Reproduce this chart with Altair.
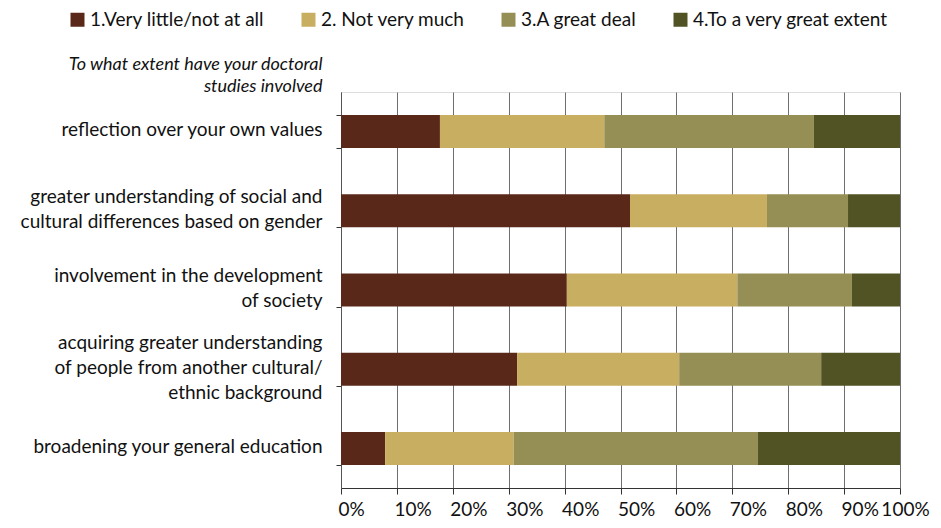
import altair as alt
import pandas as pd

categories = [
    "reflection over your own values",
    "greater understanding of social and|cultural differences based on gender",
    "involvement in the development|of society",
    "acquiring greater understanding|of people from another cultural/|ethnic background",
    "broadening your general education",
]
levels = [
    "1.Very little/not at all",
    "2. Not very much",
    "3.A great deal",
    "4.To a very great extent",
]
very_little = [17.7, 51.7, 40.4, 31.5, 7.9]
not_much = [29.4, 24.5, 30.5, 29.0, 23.0]
great_deal = [37.5, 14.5, 20.5, 25.4, 43.7]
very_great = [15.4, 9.3, 8.6, 14.1, 25.4]
colors = ["#5A2819", "#C8AE60", "#968F55", "#515324"]
x_ticks = [0, 0.1, 0.2, 0.3, 0.4, 0.5, 0.6, 0.7, 0.8, 0.9, 1.0]

series = [very_little, not_much, great_deal, very_great]
rows = []
for li, (lvl, vals) in enumerate(zip(levels, series)):
    for c, v in zip(categories, vals):
        rows.append({"category": c, "level": lvl, "order": li, "value": v})
df = pd.DataFrame(rows)

FONT = "Lato"

chart = (
    alt.Chart(df)
    .mark_bar(size=33)
    .encode(
        x=alt.X(
            "value:Q",
            stack="normalize",
            scale=alt.Scale(domain=[0, 1]),
            axis=alt.Axis(
                values=x_ticks,
                format="%",
                title=None,
                grid=True,
                gridColor="#6f6f6f",
                gridWidth=1,
                domainColor="#333333",
                tickColor="#333333",
                tickSize=6,
                labelFontSize=19,
                labelPadding=6,
                labelColor="#111111",
                labelFont=FONT,
                labelOverlap=False,
                labelFlush=False,
                labelAlign={"expr": "datum.value >= 1 ? 'center' : 'left'"},
                labelOffset={"expr": "datum.value >= 1 ? 5 : -3"},
            ),
        ),
        y=alt.Y(
            "category:N",
            sort=categories,
            scale=alt.Scale(paddingInner=0.58, paddingOuter=0.29),
            axis=alt.Axis(
                title=["To what extent have your doctoral", "studies involved"],
                titleAngle=0,
                titleAlign="right",
                titleBaseline="alphabetic",
                titleX=-19,
                titleY=-23,
                titleFontStyle="italic",
                titleFontWeight="normal",
                titleFontSize=18,
                titleLineHeight=22,
                titleFont=FONT,
                titleColor="#111111",
                labelExpr="split(datum.label, '|')",
                labelFontSize=19,
                labelLineHeight=25,
                labelOffset={"expr": "-(length(split(datum.label, '|')) - 1) * 12.5 - 2"},
                labelPadding=14,
                labelFont=FONT,
                labelColor="#111111",
                labelLimit=400,
                tickBand="extent",
                tickSize=5,
                tickColor="#333333",
                domainColor="#555555",
                grid=False,
            ),
        ),
        color=alt.Color(
            "level:N",
            sort=levels,
            scale=alt.Scale(domain=levels, range=colors),
            legend=alt.Legend(
                title=None,
                orient="none",
                direction="horizontal",
                legendX=-273,
                legendY=-82,
                symbolType="square",
                symbolSize=196,
                symbolStrokeWidth=0,
                labelFontSize=19,
                labelFont=FONT,
                labelColor="#111111",
                labelOffset=3,
                columnPadding=34,
                labelLimit=300,
            ),
        ),
        order=alt.Order("order:Q"),
    )
    .properties(
        width=559,
        height=396,
        autosize=alt.AutoSizeParams(type="none"),
        padding={"left": 333, "top": 84, "right": 33, "bottom": 32},
    )
    .configure_view(stroke=None)
    .configure(background="white")
)

chart.save("out.html", embed_options={"renderer": "svg", "actions": False})
